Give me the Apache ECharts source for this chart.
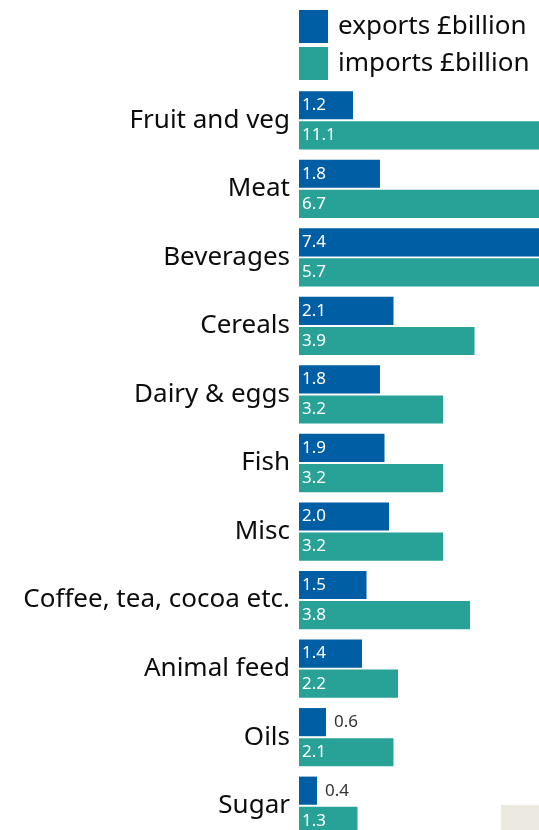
<!DOCTYPE html>
<html>
<head>
<meta charset="utf-8">
<script src="https://cdn.jsdelivr.net/npm/echarts@6/dist/echarts.min.js"></script>
<style>
html,body{margin:0;padding:0;background:#fff;overflow:hidden;}
#chart{width:539px;height:840px;}
</style>
</head>
<body>
<div id="chart"></div>
<script>
var categories = ["Fruit and veg","Meat","Beverages","Cereals","Dairy & eggs","Fish","Misc","Coffee, tea, cocoa etc.","Animal feed","Oils","Sugar"];
var exportsValues = [1.2,1.8,7.4,2.1,1.8,1.9,2.0,1.5,1.4,0.6,0.4];
var importsValues = [11.1,6.7,5.7,3.9,3.2,3.2,3.2,3.8,2.2,2.1,1.3];
var seriesNames = ["exports £billion","imports £billion"];

var FONT = "Noto Sans";
function toData(arr){
  return arr.map(function(v){
    if (v < 1) {
      return {value:v, label:{position:'right', distance:8, color:'#333'}};
    }
    return v;
  });
}
var chart = echarts.init(document.getElementById('chart'), null, {renderer:'canvas'});
var barLabel = {
  show:true, position:'insideLeft', distance:3, color:'#fff',
  fontFamily:FONT, fontSize:17,
  formatter:function(p){return p.value.toFixed(1);}
};
chart.setOption({
  animation:false,
  textStyle:{fontFamily:FONT},
  legend:{
    orient:'vertical', left:299, top:10, padding:0, itemWidth:29, itemHeight:33, itemGap:4,
    icon:'rect',
    textStyle:{fontSize:26, color:'#0b0c0c', fontFamily:FONT, padding:[0,0,0,5]},
    data:seriesNames
  },
  grid:{left:299, right:0, top:86, bottom:0, containLabel:false},
  xAxis:{type:'value', min:0, max:5.333, show:false},
  yAxis:{
    type:'category', data:categories, inverse:true,
    axisLine:{show:false}, axisTick:{show:false},
    axisLabel:{fontSize:26, color:'#0b0c0c', margin:9, fontFamily:FONT}
  },
  series:[
    {name:seriesNames[0], type:'bar', data:toData(exportsValues), color:'#005ea5',
     barCategoryGap:'15%', barGap:'7%', label:barLabel, clip:true},
    {name:seriesNames[1], type:'bar', data:toData(importsValues), color:'#28a197',
     barCategoryGap:'15%', barGap:'7%', label:barLabel, clip:true}
  ],
  graphic:[{type:'rect', right:0, top:805, shape:{width:38, height:25}, style:{fill:'#ebe9e0'}, z:-1}]
});
</script>
</body>
</html>
